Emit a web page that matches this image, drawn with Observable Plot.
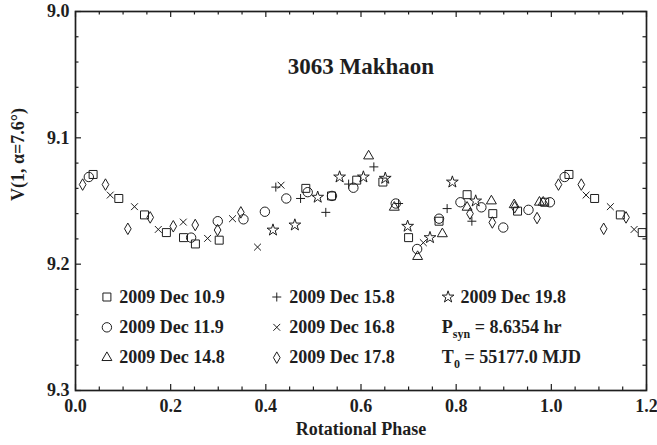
<!DOCTYPE html>
<html>
<head>
<meta charset="utf-8">
<script src="https://cdn.jsdelivr.net/npm/d3@7"></script>
<script src="https://cdn.jsdelivr.net/npm/@observablehq/plot@0.6"></script>
<style>
  html, body { margin: 0; padding: 0; background: #fff; }
  #chart svg { display: block; }
</style>
</head>
<body>
<div id="chart"></div>
<script>
// Observing sessions (legend labels)
const sessions = ["2009 Dec 10.9", "2009 Dec 11.9", "2009 Dec 14.8", "2009 Dec 15.8", "2009 Dec 16.8", "2009 Dec 17.8", "2009 Dec 19.8"];

// Rotational phase and reduced magnitude V(1, α) for each session
const phaseDec109 = [0.037, 0.091, 0.145, 0.191, 0.227, 0.252, 0.302, 0.484, 0.538, 0.591, 0.646, 0.700, 0.764, 0.823, 0.877, 0.929, 0.986];
const magDec109   = [9.129, 9.148, 9.161, 9.175, 9.179, 9.184, 9.181, 9.140, 9.146, 9.1335, 9.135, 9.179, 9.166, 9.145, 9.160, 9.158, 9.151];

const phaseDec119 = [0.028, 0.243, 0.299, 0.353, 0.398, 0.443, 0.488, 0.539, 0.584, 0.673, 0.718, 0.764, 0.809, 0.853, 0.899, 0.952, 0.997];
const magDec119   = [9.131, 9.179, 9.166, 9.1645, 9.1585, 9.148, 9.143, 9.146, 9.1395, 9.152, 9.188, 9.164, 9.151, 9.155, 9.171, 9.157, 9.151];

const phaseDec148 = [0.616, 0.670, 0.719, 0.771, 0.823, 0.874, 0.922, 0.975, 0.983];
const magDec148   = [9.1144, 9.155, 9.194, 9.176, 9.155, 9.150, 9.153, 9.151, 9.151];

const phaseDec158 = [0.421, 0.473, 0.526, 0.574, 0.627, 0.679, 0.781, 0.833];
const magDec158   = [9.139, 9.148, 9.159, 9.1366, 9.123, 9.152, 9.156, 9.166];

const phaseDec168 = [0.073, 0.124, 0.174, 0.2265, 0.2776, 0.330, 0.3826, 0.432, 0.731];
const magDec168   = [9.1453, 9.1545, 9.1725, 9.1667, 9.1796, 9.164, 9.1865, 9.1375, 9.183];

const phaseDec178 = [0.015, 0.063, 0.110, 0.157, 0.2055, 0.2516, 0.2986, 0.3475, 0.829, 0.876, 0.923, 0.970];
const magDec178   = [9.137, 9.137, 9.172, 9.163, 9.170, 9.169, 9.173, 9.159, 9.160, 9.167, 9.155, 9.1635];

const phaseDec198 = [0.415, 0.461, 0.509, 0.555, 0.605, 0.651, 0.698, 0.745, 0.792, 0.841];
const magDec198   = [9.173, 9.169, 9.147, 9.131, 9.131, 9.132, 9.170, 9.179, 9.135, 9.150];

// Axis ticks
const xTicks = [0.0, 0.2, 0.4, 0.6, 0.8, 1.0, 1.2];
const xMinorTicks = [0.05, 0.1, 0.15, 0.25, 0.3, 0.35, 0.45, 0.5, 0.55, 0.65, 0.7, 0.75, 0.85, 0.9, 0.95, 1.05, 1.1, 1.15];
const yTicks = [9.0, 9.1, 9.2, 9.3];
const yMinorTicks = [9.02, 9.04, 9.06, 9.08, 9.12, 9.14, 9.16, 9.18, 9.22, 9.24, 9.26, 9.28];

// Texts
const title = "3063 Makhaon";
const xLabel = "Rotational Phase";
const yLabel = "V(1, α=7.6°)";
const periodText = ["P", "syn", " = 8.6354 hr"];
const epochText = ["T", "0", " = 55177.0 MJD"];

// ---- layout & styling ----
const W = 657, H = 445;
const margin = {left: 75, right: 11, top: 11, bottom: 55};
const frameW = W - margin.left - margin.right;
const frameH = H - margin.top - margin.bottom;
const font = "'Liberation Serif', 'Times New Roman', serif";
const ink = "#1e1e1e";
const xMax = 1.2;
const majorLen = 6, minorLen = 3.5;
const labelSize = 18;

// symbol + size for each session
const symbolStyles = [
  {symbol: "square",   r: 4.5},
  {symbol: "circle",   r: 4.7},
  {symbol: "triangle", r: 3.7},
  {symbol: "plus",     r: 3.0},
  {symbol: "times",    r: 3.2},
  {symbol: "diamond",  r: 3.5},
  {symbol: "star",     r: 3.7}
];
const phases = [phaseDec109, phaseDec119, phaseDec148, phaseDec158, phaseDec168, phaseDec178, phaseDec198];
const mags = [magDec109, magDec119, magDec148, magDec158, magDec168, magDec178, magDec198];

// Phase-folded points; the first part of the cycle is repeated after phase 1
const seriesPoints = sessions.map((s, k) =>
  phases[k].flatMap((p, i) => {
    const pts = [{phase: p, mag: mags[k][i]}];
    if (p + 1 <= xMax) pts.push({phase: p + 1, mag: mags[k][i]});
    return pts;
  })
);

// Legend layout (in data units): three columns, three rows
const legendCols = [0.066, 0.423, 0.783];
const legendRows = [9.226, 9.25, 9.274];
const legendGap = 0.026;
const noteX = 0.771;
const legendItems = sessions.map((s, k) => ({
  label: s,
  x: legendCols[Math.floor(k / 3)],
  y: legendRows[k % 3],
  ...symbolStyles[k]
}));

const dotMarks = seriesPoints.map((pts, k) =>
  Plot.dot(pts, {x: "phase", y: "mag", symbol: symbolStyles[k].symbol, r: symbolStyles[k].r,
                 fill: "none", stroke: ink, strokeWidth: 1})
);
const legendDots = legendItems.map(d =>
  Plot.dot([d], {x: "x", y: "y", symbol: d.symbol, r: d.r, fill: "none", stroke: ink, strokeWidth: 1})
);

// inward tick marks on all four sides
const tickStyle = {stroke: ink, strokeWidth: 1.2};
const xTickMarks = (values, len) => [
  Plot.ruleX(values, {x: d => d, insetTop: frameH - len, ...tickStyle}),
  Plot.ruleX(values, {x: d => d, insetBottom: frameH - len, ...tickStyle})
];
const yTickMarks = (values, len) => [
  Plot.ruleY(values, {y: d => d, insetRight: frameW - len, ...tickStyle}),
  Plot.ruleY(values, {y: d => d, insetLeft: frameW - len, ...tickStyle})
];

const plot = Plot.plot({
  width: W,
  height: H,
  marginLeft: margin.left,
  marginRight: margin.right,
  marginTop: margin.top,
  marginBottom: margin.bottom,
  x: {domain: [0, xMax], axis: null},
  y: {domain: [9.0, 9.3], reverse: true, axis: null},
  style: {fontFamily: font, color: ink, background: "#fff", overflow: "visible"},
  marks: [
    ...xTickMarks(xTicks, majorLen),
    ...xTickMarks(xMinorTicks, minorLen),
    ...yTickMarks(yTicks, majorLen),
    ...yTickMarks(yMinorTicks, minorLen),
    // tick labels
    Plot.text(xTicks, {x: d => d, frameAnchor: "bottom", lineAnchor: "top", dy: 9,
                       text: d3.format(".1f"), fontSize: 18, fontWeight: "bold", fill: ink}),
    Plot.text(yTicks, {y: d => d, frameAnchor: "left", textAnchor: "end", dx: -6,
                       text: d3.format(".1f"), fontSize: 18, fontWeight: "bold", fill: ink}),
    Plot.frame({stroke: ink, strokeWidth: 1.7}),
    // axis titles and chart title
    Plot.text([xLabel], {frameAnchor: "bottom", dy: 44, fontSize: 18, fontWeight: "bold", fill: ink}),
    Plot.text([yLabel], {frameAnchor: "left", dx: -57, rotate: -90, fontSize: 18, fontWeight: "bold", fill: ink}),
    Plot.text([title], {frameAnchor: "top", dy: 46, fontSize: 23, fontWeight: "bold", fill: ink}),
    // data
    ...dotMarks,
    // legend
    ...legendDots,
    Plot.text(legendItems, {x: d => d.x + legendGap, y: "y", text: "label", textAnchor: "start",
                            fontSize: labelSize, fontWeight: "bold", fill: ink})
  ]
});

document.getElementById("chart").appendChild(plot);

// Period and epoch lines with subscripts, placed through the plot's scales
const sx = plot.scale("x"), sy = plot.scale("y");
const svg = d3.select(plot);
[[periodText, legendRows[1]], [epochText, legendRows[2]]].forEach(([parts, yv]) => {
  const t = svg.append("text")
    .attr("x", sx.apply(noteX))
    .attr("y", sy.apply(yv))
    .attr("dy", "0.32em")
    .attr("text-anchor", "start")
    .attr("font-family", font)
    .attr("font-weight", "bold")
    .attr("font-size", labelSize)
    .attr("fill", ink);
  t.append("tspan").text(parts[0]);
  t.append("tspan").attr("font-size", 12).attr("dy", 5).text(parts[1]);
  t.append("tspan").attr("dy", -5).text(parts[2]);
});
</script>
</body>
</html>
